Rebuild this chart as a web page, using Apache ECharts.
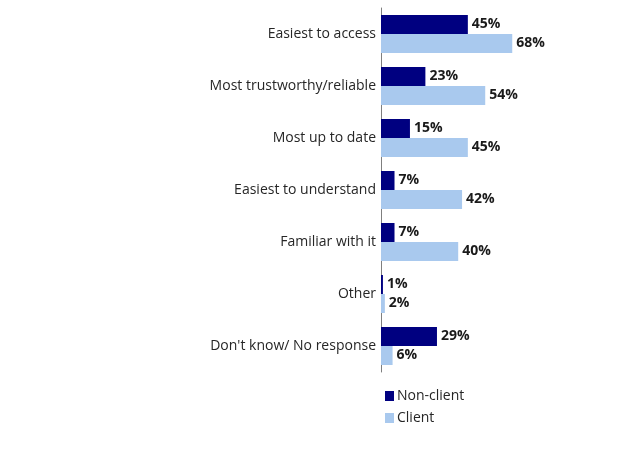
<!DOCTYPE html>
<html><head><meta charset="utf-8">
<script src="https://cdn.jsdelivr.net/npm/echarts@6/dist/echarts.min.js"></script>
<style>html,body{margin:0;padding:0;background:#fff}#c{width:624px;height:468px}</style>
</head><body><div id="c"></div>
<script>
const categories = ["Easiest to access","Most trustworthy/reliable","Most up to date","Easiest to understand","Familiar with it","Other","Don't know/ No response"];
const nonClient = [45,23,15,7,7,1,29];
const client = [68,54,45,42,40,2,6];
const seriesNames = ["Non-client","Client"];
const chart = echarts.init(document.getElementById('c'));
const font = "'Open Sans', 'Liberation Sans', sans-serif";
const lbl = {show:true, position:'right', distance:4, formatter:'{c}%', fontFamily:font, fontSize:14, fontWeight:'bold', color:'#1a1a1a'};
chart.setOption({
  animation:false,
  grid:{left:381, right:50, top:8, height:364},
  xAxis:{type:'value', min:0, max:100, show:false},
  yAxis:{type:'category', data:categories, inverse:true,
    axisLine:{show:true, lineStyle:{color:'#7f7f7f', width:1}},
    axisTick:{show:false},
    axisLabel:{fontFamily:font, fontSize:14, color:'#262626', margin:5}},
  legend:{orient:'vertical', left:380, top:384, itemWidth:9, itemHeight:10, itemGap:8, itemStyle:{borderWidth:0},
    textStyle:{fontFamily:font, fontSize:14, color:'#262626', padding:[0,0,0,-2]}, icon:'rect', data:seriesNames},
  series:[
    {name:seriesNames[0], type:'bar', data:nonClient, barWidth:19, barGap:'0%', barCategoryGap:'25%', itemStyle:{color:'#000080'}, label:lbl},
    {name:seriesNames[1], type:'bar', data:client, barWidth:19, barGap:'0%', itemStyle:{color:'#A9C9EE'}, label:lbl}
  ]
});
</script></body></html>
